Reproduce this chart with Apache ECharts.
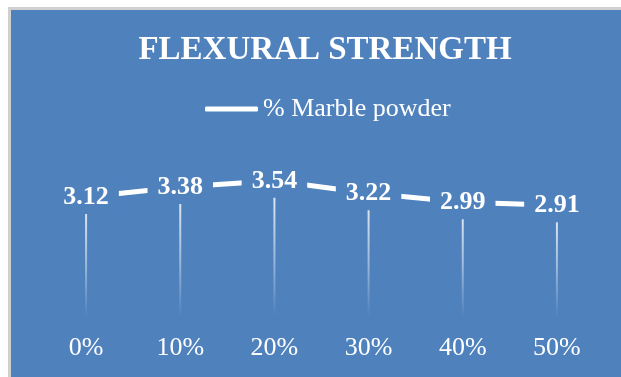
<!DOCTYPE html>
<html>
<head>
<meta charset="utf-8">
<script src="https://cdn.jsdelivr.net/npm/echarts@6/dist/echarts.min.js"></script>
<style>
	html, body { margin: 0; padding: 0; background: #ffffff; }
	#frame {
		position: absolute; left: 8px; top: 7px; width: 613px; height: 370px;
		background: #4F81BD; border-left: 3px solid #d0d0d0; border-top: 3px solid #d0d0d0;
		box-sizing: border-box;
	}
	#chart { position: absolute; left: 0; top: 0; width: 621px; height: 377px; }
</style>
</head>
<body>
<div id="frame"></div>
<div id="chart"></div>
<script>
// 数据
var categories = ['0%', '10%', '20%', '30%', '40%', '50%'];
var strength = [3.12, 3.38, 3.54, 3.22, 2.99, 2.91];
var seriesName = '% Marble powder';

var bg = '#4F81BD';
var serif = '"Liberation Serif", "Times New Roman", serif';

var chart = echarts.init(document.getElementById('chart'));
var option = {
	backgroundColor: 'transparent',
	animation: false,
	title: {
		text: 'FLEXURAL STRENGTH',
		left: 320,
		top: 29,
		textAlign: 'center',
		textStyle: {
			color: '#ffffff',
			fontFamily: serif,
			fontWeight: 'bold',
			fontSize: 33
		}
	},
	legend: {
		data: [seriesName],
		left: 200,
		top: 91,
		icon: 'roundRect',
		itemWidth: 53,
		itemHeight: 5,
		textStyle: {
			color: '#ffffff',
			fontFamily: serif,
			fontSize: 26
		}
	},
	grid: {
		left: 39,
		right: 17,
		top: 163,
		bottom: 59
	},
	xAxis: {
		type: 'category',
		data: categories,
		boundaryGap: true,
		axisLine: { show: false },
		axisTick: { show: false },
		axisLabel: {
			color: '#ffffff',
			fontFamily: serif,
			fontSize: 26,
			margin: 17
		}
	},
	yAxis: {
		type: 'value',
		min: 0,
		max: 4,
		show: false,
		splitLine: { show: false }
	},
	series: [{
		// 垂直线
		name: 'drop',
		type: 'bar',
		data: strength,
		barWidth: 2,
		silent: true,
		z: 1,
		itemStyle: {
			color: new echarts.graphic.LinearGradient(0, 0, 0, 1, [
				{ offset: 0, color: 'rgba(255,255,255,0.9)' },
				{ offset: 0.55, color: 'rgba(255,255,255,0.45)' },
				{ offset: 1, color: 'rgba(255,255,255,0)' }
			])
		}
	}, {
		name: seriesName,
		type: 'line',
		data: strength,
		showSymbol: true,
		symbol: 'circle',
		symbolSize: 1,
		z: 3,
		lineStyle: { color: '#ffffff', width: 5 },
		itemStyle: { color: '#ffffff' },
		label: {
			show: true,
			position: 'inside',
			color: '#ffffff',
			fontFamily: serif,
			fontWeight: 'bold',
			fontSize: 26,
			backgroundColor: bg,
			padding: [4, 10]
		}
	}]
};
chart.setOption(option);
</script>
</body>
</html>
